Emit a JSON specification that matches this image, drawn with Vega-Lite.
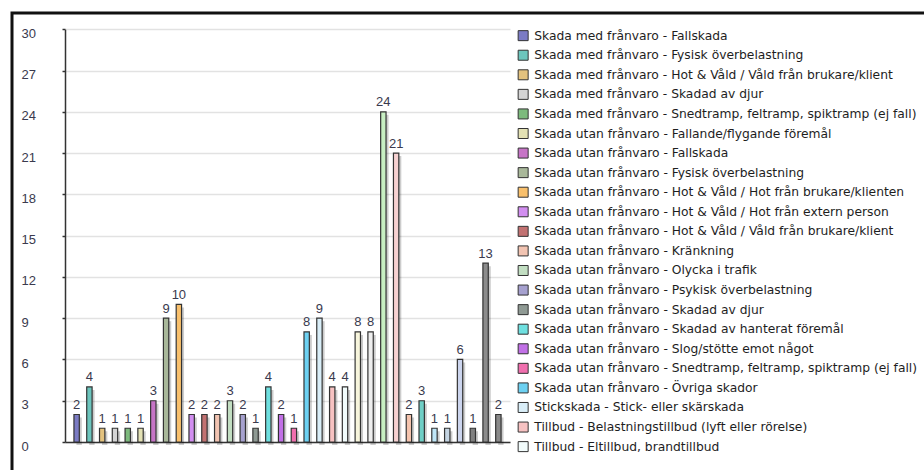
{
  "$schema": "https://vega.github.io/schema/vega-lite/v6.json",
  "autosize": {"type": "none"},
  "width": 912,
  "height": 457,
  "padding": {"left": 12, "top": 13, "right": 0, "bottom": 0},
  "background": "#ffffff",
  "view": {
    "stroke": "#111111",
    "strokeWidth": 3,
    "strokeDash": [913.5, 1366, 458.5],
    "fill": "#ffffff"
  },
  "config": {
    "font": "Liberation Sans",
    "view": {"strokeDash": [913.5, 1366, 458.5]},
    "style": {"cell": {"strokeDash": [913.5, 1366, 458.5]}}
  },
  "data": {
    "values": [
      {"kategori": "Skada med frånvaro - Fallskada", "antal": 2},
      {"kategori": "Skada med frånvaro - Fysisk överbelastning", "antal": 4},
      {"kategori": "Skada med frånvaro - Hot & Våld / Våld från brukare/klient", "antal": 1},
      {"kategori": "Skada med frånvaro - Skadad av djur", "antal": 1},
      {"kategori": "Skada med frånvaro - Snedtramp, feltramp, spiktramp (ej fall)", "antal": 1},
      {"kategori": "Skada utan frånvaro - Fallande/flygande föremål", "antal": 1},
      {"kategori": "Skada utan frånvaro - Fallskada", "antal": 3},
      {"kategori": "Skada utan frånvaro - Fysisk överbelastning", "antal": 9},
      {"kategori": "Skada utan frånvaro - Hot & Våld / Hot från brukare/klienten", "antal": 10},
      {"kategori": "Skada utan frånvaro - Hot & Våld / Hot från extern person", "antal": 2},
      {"kategori": "Skada utan frånvaro - Hot & Våld / Våld från brukare/klient", "antal": 2},
      {"kategori": "Skada utan frånvaro - Kränkning", "antal": 2},
      {"kategori": "Skada utan frånvaro - Olycka i trafik", "antal": 3},
      {"kategori": "Skada utan frånvaro - Psykisk överbelastning", "antal": 2},
      {"kategori": "Skada utan frånvaro - Skadad av djur", "antal": 1},
      {"kategori": "Skada utan frånvaro - Skadad av hanterat föremål", "antal": 4},
      {"kategori": "Skada utan frånvaro - Slog/stötte emot något", "antal": 2},
      {"kategori": "Skada utan frånvaro - Snedtramp, feltramp, spiktramp (ej fall)", "antal": 1},
      {"kategori": "Skada utan frånvaro - Övriga skador", "antal": 8},
      {"kategori": "Stickskada - Stick- eller skärskada", "antal": 9},
      {"kategori": "Tillbud - Belastningstillbud (lyft eller rörelse)", "antal": 4},
      {"kategori": "Tillbud - Eltillbud, brandtillbud", "antal": 4},
      {"kategori": "Tillbud - Fall / snubbling", "antal": 8},
      {"kategori": "Tillbud - Fallande/flygande föremål", "antal": 8},
      {"kategori": "Tillbud - Hot & Våld / Hot från brukare/klienten", "antal": 24},
      {"kategori": "Tillbud - Hot & Våld / Våld från brukare/klient", "antal": 21},
      {"kategori": "Tillbud - Kränkning", "antal": 2},
      {"kategori": "Tillbud - Maskin- och verktygstillbud", "antal": 3},
      {"kategori": "Tillbud - Olycka i trafik", "antal": 1},
      {"kategori": "Tillbud - Psykisk överbelastning", "antal": 1},
      {"kategori": "Tillbud - Skadad av djur", "antal": 6},
      {"kategori": "Tillbud - Smittrisk", "antal": 1},
      {"kategori": "Tillbud - Övriga tillbud", "antal": 13},
      {"kategori": "Övrigt - Arbetsmiljöbrist", "antal": 2}
    ]
  },
  "encoding": {
    "x": {
      "field": "kategori",
      "type": "nominal",
      "sort": null,
      "scale": {"type": "band", "range": [53, 498], "paddingInner": 0.58, "paddingOuter": 0.7},
      "axis": {
        "orient": "bottom",
        "offset": -28,
        "title": null,
        "labels": false,
        "ticks": false,
        "grid": false,
        "domainColor": "#333333",
        "domainWidth": 1.5
      }
    },
    "y": {
      "field": "antal",
      "type": "quantitative",
      "scale": {"domain": [0, 30], "range": [429, 16.3], "nice": false, "zero": true},
      "axis": {
        "orient": "left",
        "offset": -53,
        "title": null,
        "values": [0, 3, 6, 9, 12, 15, 18, 21, 24, 27, 30],
        "labelAlign": "left",
        "labelBaseline": "middle",
        "labelOffset": 4,
        "labelPadding": 41,
        "labelFont": "Liberation Sans",
        "labelFontSize": 13,
        "labelColor": "#3a3a4e",
        "tickSize": 3,
        "tickColor": "#333333",
        "tickWidth": 1.5,
        "domainColor": "#333333",
        "domainWidth": 1.5,
        "gridColor": "#e2e2e2",
        "gridWidth": 1.5
      }
    }
  },
  "layer": [
    {
      "mark": {"type": "bar", "color": "#000000", "opacity": 0.2, "xOffset": 2.5, "yOffset": 3}
    },
    {
      "mark": {"type": "bar", "stroke": "#333333", "strokeWidth": 1.2},
      "encoding": {
        "color": {
          "field": "kategori",
          "type": "nominal",
          "scale": {
            "domain": [
              "Skada med frånvaro - Fallskada",
              "Skada med frånvaro - Fysisk överbelastning",
              "Skada med frånvaro - Hot & Våld / Våld från brukare/klient",
              "Skada med frånvaro - Skadad av djur",
              "Skada med frånvaro - Snedtramp, feltramp, spiktramp (ej fall)",
              "Skada utan frånvaro - Fallande/flygande föremål",
              "Skada utan frånvaro - Fallskada",
              "Skada utan frånvaro - Fysisk överbelastning",
              "Skada utan frånvaro - Hot & Våld / Hot från brukare/klienten",
              "Skada utan frånvaro - Hot & Våld / Hot från extern person",
              "Skada utan frånvaro - Hot & Våld / Våld från brukare/klient",
              "Skada utan frånvaro - Kränkning",
              "Skada utan frånvaro - Olycka i trafik",
              "Skada utan frånvaro - Psykisk överbelastning",
              "Skada utan frånvaro - Skadad av djur",
              "Skada utan frånvaro - Skadad av hanterat föremål",
              "Skada utan frånvaro - Slog/stötte emot något",
              "Skada utan frånvaro - Snedtramp, feltramp, spiktramp (ej fall)",
              "Skada utan frånvaro - Övriga skador",
              "Stickskada - Stick- eller skärskada",
              "Tillbud - Belastningstillbud (lyft eller rörelse)",
              "Tillbud - Eltillbud, brandtillbud",
              "Tillbud - Fall / snubbling",
              "Tillbud - Fallande/flygande föremål",
              "Tillbud - Hot & Våld / Hot från brukare/klienten",
              "Tillbud - Hot & Våld / Våld från brukare/klient",
              "Tillbud - Kränkning",
              "Tillbud - Maskin- och verktygstillbud",
              "Tillbud - Olycka i trafik",
              "Tillbud - Psykisk överbelastning",
              "Tillbud - Skadad av djur",
              "Tillbud - Smittrisk",
              "Tillbud - Övriga tillbud",
              "Övrigt - Arbetsmiljöbrist"
            ],
            "range": [
              "#7b7bc4", "#6cc5bd", "#e3c27e", "#d4d4d4", "#7dba7d", "#e3e1b4",
              "#c674c6", "#a9b89a", "#f9c06c", "#d28ef0", "#c27272", "#f2c4b2",
              "#c2dec2", "#a6a1cf", "#8f9a94", "#6fe0e0", "#c170e6", "#f06fae",
              "#6dd1f2", "#d9eef8", "#f7c2c2", "#f2fcfc", "#f7f5dc", "#eeeeee",
              "#c7efc2", "#f7d2d2", "#f5c4ae", "#6fcfc6", "#bfe6f7", "#c4d4e2",
              "#ccd5ee", "#808080", "#8c8c8c", "#8a8a8a"
            ]
          },
          "legend": {
            "orient": "none",
            "legendX": 505,
            "legendY": 16.5,
            "title": null,
            "padding": 0,
            "values": [
              "Skada med frånvaro - Fallskada",
              "Skada med frånvaro - Fysisk överbelastning",
              "Skada med frånvaro - Hot & Våld / Våld från brukare/klient",
              "Skada med frånvaro - Skadad av djur",
              "Skada med frånvaro - Snedtramp, feltramp, spiktramp (ej fall)",
              "Skada utan frånvaro - Fallande/flygande föremål",
              "Skada utan frånvaro - Fallskada",
              "Skada utan frånvaro - Fysisk överbelastning",
              "Skada utan frånvaro - Hot & Våld / Hot från brukare/klienten",
              "Skada utan frånvaro - Hot & Våld / Hot från extern person",
              "Skada utan frånvaro - Hot & Våld / Våld från brukare/klient",
              "Skada utan frånvaro - Kränkning",
              "Skada utan frånvaro - Olycka i trafik",
              "Skada utan frånvaro - Psykisk överbelastning",
              "Skada utan frånvaro - Skadad av djur",
              "Skada utan frånvaro - Skadad av hanterat föremål",
              "Skada utan frånvaro - Slog/stötte emot något",
              "Skada utan frånvaro - Snedtramp, feltramp, spiktramp (ej fall)",
              "Skada utan frånvaro - Övriga skador",
              "Stickskada - Stick- eller skärskada",
              "Tillbud - Belastningstillbud (lyft eller rörelse)",
              "Tillbud - Eltillbud, brandtillbud"
            ],
            "symbolType": "square",
            "symbolSize": 100,
            "symbolStrokeColor": "#333333",
            "symbolStrokeWidth": 1,
            "symbolOpacity": 1,
            "labelFont": "DejaVu Sans",
            "labelFontSize": 12.3,
            "labelColor": "#1e1e1e",
            "labelOffset": 5,
            "labelLimit": 0,
            "rowPadding": 4.57
          }
        }
      }
    },
    {
      "mark": {"type": "text", "baseline": "bottom", "dy": -2.5, "fontSize": 13, "font": "Liberation Sans", "color": "#3a3a4e"},
      "encoding": {"text": {"field": "antal", "type": "quantitative"}}
    }
  ]
}
